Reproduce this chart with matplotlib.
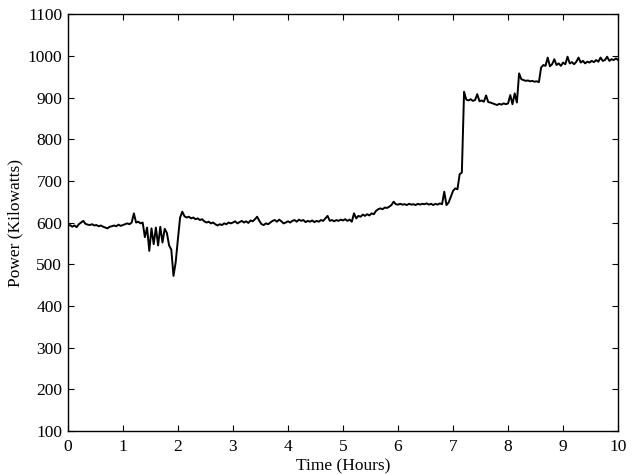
import numpy as np
import matplotlib
matplotlib.use("Agg")
import matplotlib.pyplot as plt

# power readings every 0.04 h, one list per hour
hour0 = [592, 594, 590, 593, 589, 596, 600, 604, 597, 595, 594, 596, 593, 594, 591, 593,
         590, 588, 586, 590, 591, 593, 591, 595, 592]
hour1 = [594, 596, 598, 596, 600, 622, 600, 602, 598, 600, 565, 588, 532, 586, 548, 588,
         545, 590, 552, 585, 575, 545, 535, 472, 505]
hour2 = [560, 612, 626, 615, 612, 614, 610, 612, 608, 610, 606, 608, 603, 600, 602, 598,
         600, 596, 593, 596, 594, 598, 596, 600, 598]
hour3 = [600, 603, 598, 601, 604, 600, 603, 599, 605, 603, 608, 614, 604, 596, 594, 598,
         596, 600, 604, 606, 602, 607, 603, 598, 600]
hour4 = [603, 600, 604, 606, 602, 607, 604, 606, 601, 604, 602, 605, 601, 604, 602, 606,
         604, 610, 616, 604, 606, 603, 606, 604, 607]
hour5 = [605, 608, 604, 607, 602, 622, 610, 616, 614, 619, 616, 620, 617, 622, 620, 628,
         632, 634, 632, 636, 635, 638, 642, 650, 644]
hour6 = [643, 645, 643, 644, 642, 645, 643, 644, 642, 645, 643, 645, 644, 646, 643, 645,
         642, 645, 643, 646, 644, 674, 642, 648, 662]
hour7 = [676, 682, 680, 716, 720, 914, 895, 893, 896, 892, 894, 908, 891, 893, 890, 905,
         889, 888, 886, 884, 882, 885, 883, 886, 884]
hour8 = [886, 906, 884, 910, 888, 958, 944, 942, 940, 941, 939, 940, 938, 939, 937, 972,
         978, 976, 996, 975, 980, 992, 978, 982, 976]
hour9 = [984, 980, 998, 982, 985, 980, 986, 996, 984, 988, 982, 986, 984, 988, 985, 990,
         986, 996, 988, 990, 998, 988, 992, 990, 994, 990]

power = hour0 + hour1 + hour2 + hour3 + hour4 + hour5 + hour6 + hour7 + hour8 + hour9
hours = np.linspace(0, 10, len(power))

plt.rcParams['font.family'] = ['Liberation Serif', 'DejaVu Serif']

fig = plt.figure(figsize=(6.34, 4.74), dpi=100)
ax = fig.add_axes([0.107, 0.091, 0.868, 0.879])
ax.plot(hours, power, color="black", lw=1.4)

ax.set_xlim(0, 10)
ax.set_ylim(100, 1100)
ax.set_xticks(range(0, 11))
ax.set_yticks(range(100, 1101, 100))
ax.tick_params(direction="in", top=True, right=True, length=4, labelsize=12.5)
ax.tick_params(axis="x", pad=6)
ax.tick_params(axis="y", pad=4)
ax.set_xlabel("Time (Hours)", fontsize=12.5, labelpad=2)
ax.set_ylabel("Power (Kilowatts)", fontsize=12.5, labelpad=3)
for s in ax.spines.values():
    s.set_linewidth(1.0)

fig.savefig("out.png", dpi=100)
